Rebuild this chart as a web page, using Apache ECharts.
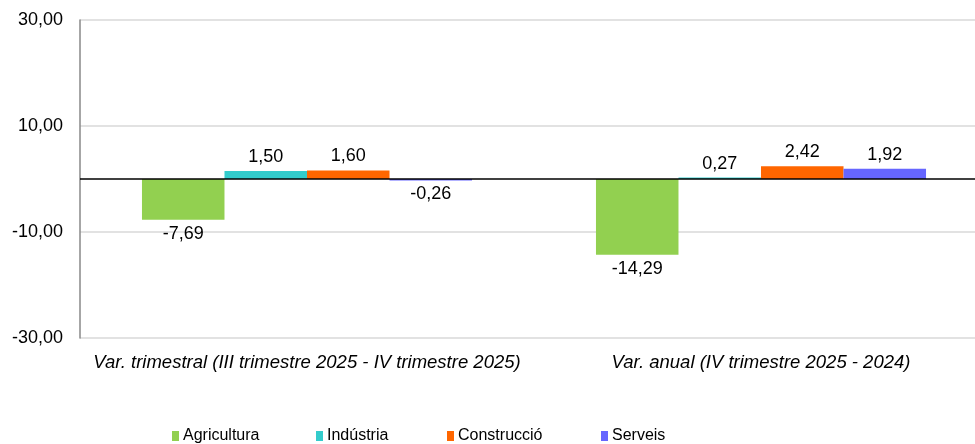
<!DOCTYPE html>
<html>
<head>
<meta charset="utf-8">
<script src="https://cdn.jsdelivr.net/npm/echarts@6/dist/echarts.min.js"></script>
<style>html,body{margin:0;padding:0;background:#fff;}#c{width:975px;height:444px;}</style>
</head>
<body>
<div id="c"></div>
<script>
var categories = ['Var. trimestral (III trimestre 2025 - IV trimestre 2025)', 'Var. anual (IV trimestre 2025 - 2024)'];
var seriesNames = ['Agricultura', 'Indústria', 'Construcció', 'Serveis'];
var agricultura = [-7.69, -14.29];
var industria = [1.50, 0.27];
var construccio = [1.60, 2.42];
var serveis = [-0.26, 1.92];
var colors = ['#92D050', '#33CCCC', '#FF6600', '#6666FF'];

var FONT = "'Liberation Sans', Arial, sans-serif";
function fmt(v) { return v.toFixed(2).replace('.', ','); }

function mkData(arr) {
  return arr.map(function (v) {
    return { value: v, label: { position: v < 0 ? 'bottom' : 'top', distance: 5 } };
  });
}

var allData = [agricultura, industria, construccio, serveis];
var series = allData.map(function (arr, i) {
  var s = {
    name: seriesNames[i],
    type: 'bar',
    data: mkData(arr),
    itemStyle: { color: colors[i] },
    barGap: '0%',
    barCategoryGap: '27.3%',
    label: {
      show: true,
      formatter: function (p) { return fmt(p.value); },
      color: '#000',
      fontSize: 18,
      fontFamily: FONT
    }
  };
  if (i === 0) {
    s.markLine = {
      silent: true,
      symbol: ['none', 'none'],
      label: { show: false },
      lineStyle: { color: '#000', width: 1.5, type: 'solid' },
      data: [{ yAxis: 0 }],
      animation: false
    };
  }
  return s;
});

var legendLefts = [167, 311, 442, 596];
var legends = seriesNames.map(function (n, i) {
  return {
    data: [n],
    left: legendLefts[i],
    top: 423,
    itemWidth: 7,
    itemHeight: 10,
    itemGap: 4,
    icon: 'rect',
    selectedMode: false,
    textStyle: { fontFamily: FONT, fontSize: 16, color: '#000', padding: [0, 0, 0, -1] }
  };
});

var chart = echarts.init(document.getElementById('c'));
chart.setOption({
  animation: false,
  grid: { left: 80, width: 908, top: 20, bottom: 106, containLabel: false, outerBoundsMode: 'none' },
  legend: legends,
  xAxis: {
    type: 'category',
    data: categories,
    axisLine: { show: false, onZero: false },
    axisTick: { show: false },
    axisLabel: { interval: 0, fontStyle: 'italic', fontSize: 18.5, color: '#000', fontFamily: FONT, margin: 15 }
  },
  yAxis: {
    type: 'value',
    min: -30,
    max: 30,
    interval: 20,
    axisLine: { show: true, lineStyle: { color: '#888', width: 1.5 } },
    axisTick: { show: false },
    splitLine: { show: true, lineStyle: { color: '#d9d9d9', width: 1.5 } },
    axisLabel: { formatter: function (v) { return fmt(v); }, fontSize: 18, color: '#000', fontFamily: FONT, margin: 17 }
  },
  series: series
});
</script>
</body>
</html>
